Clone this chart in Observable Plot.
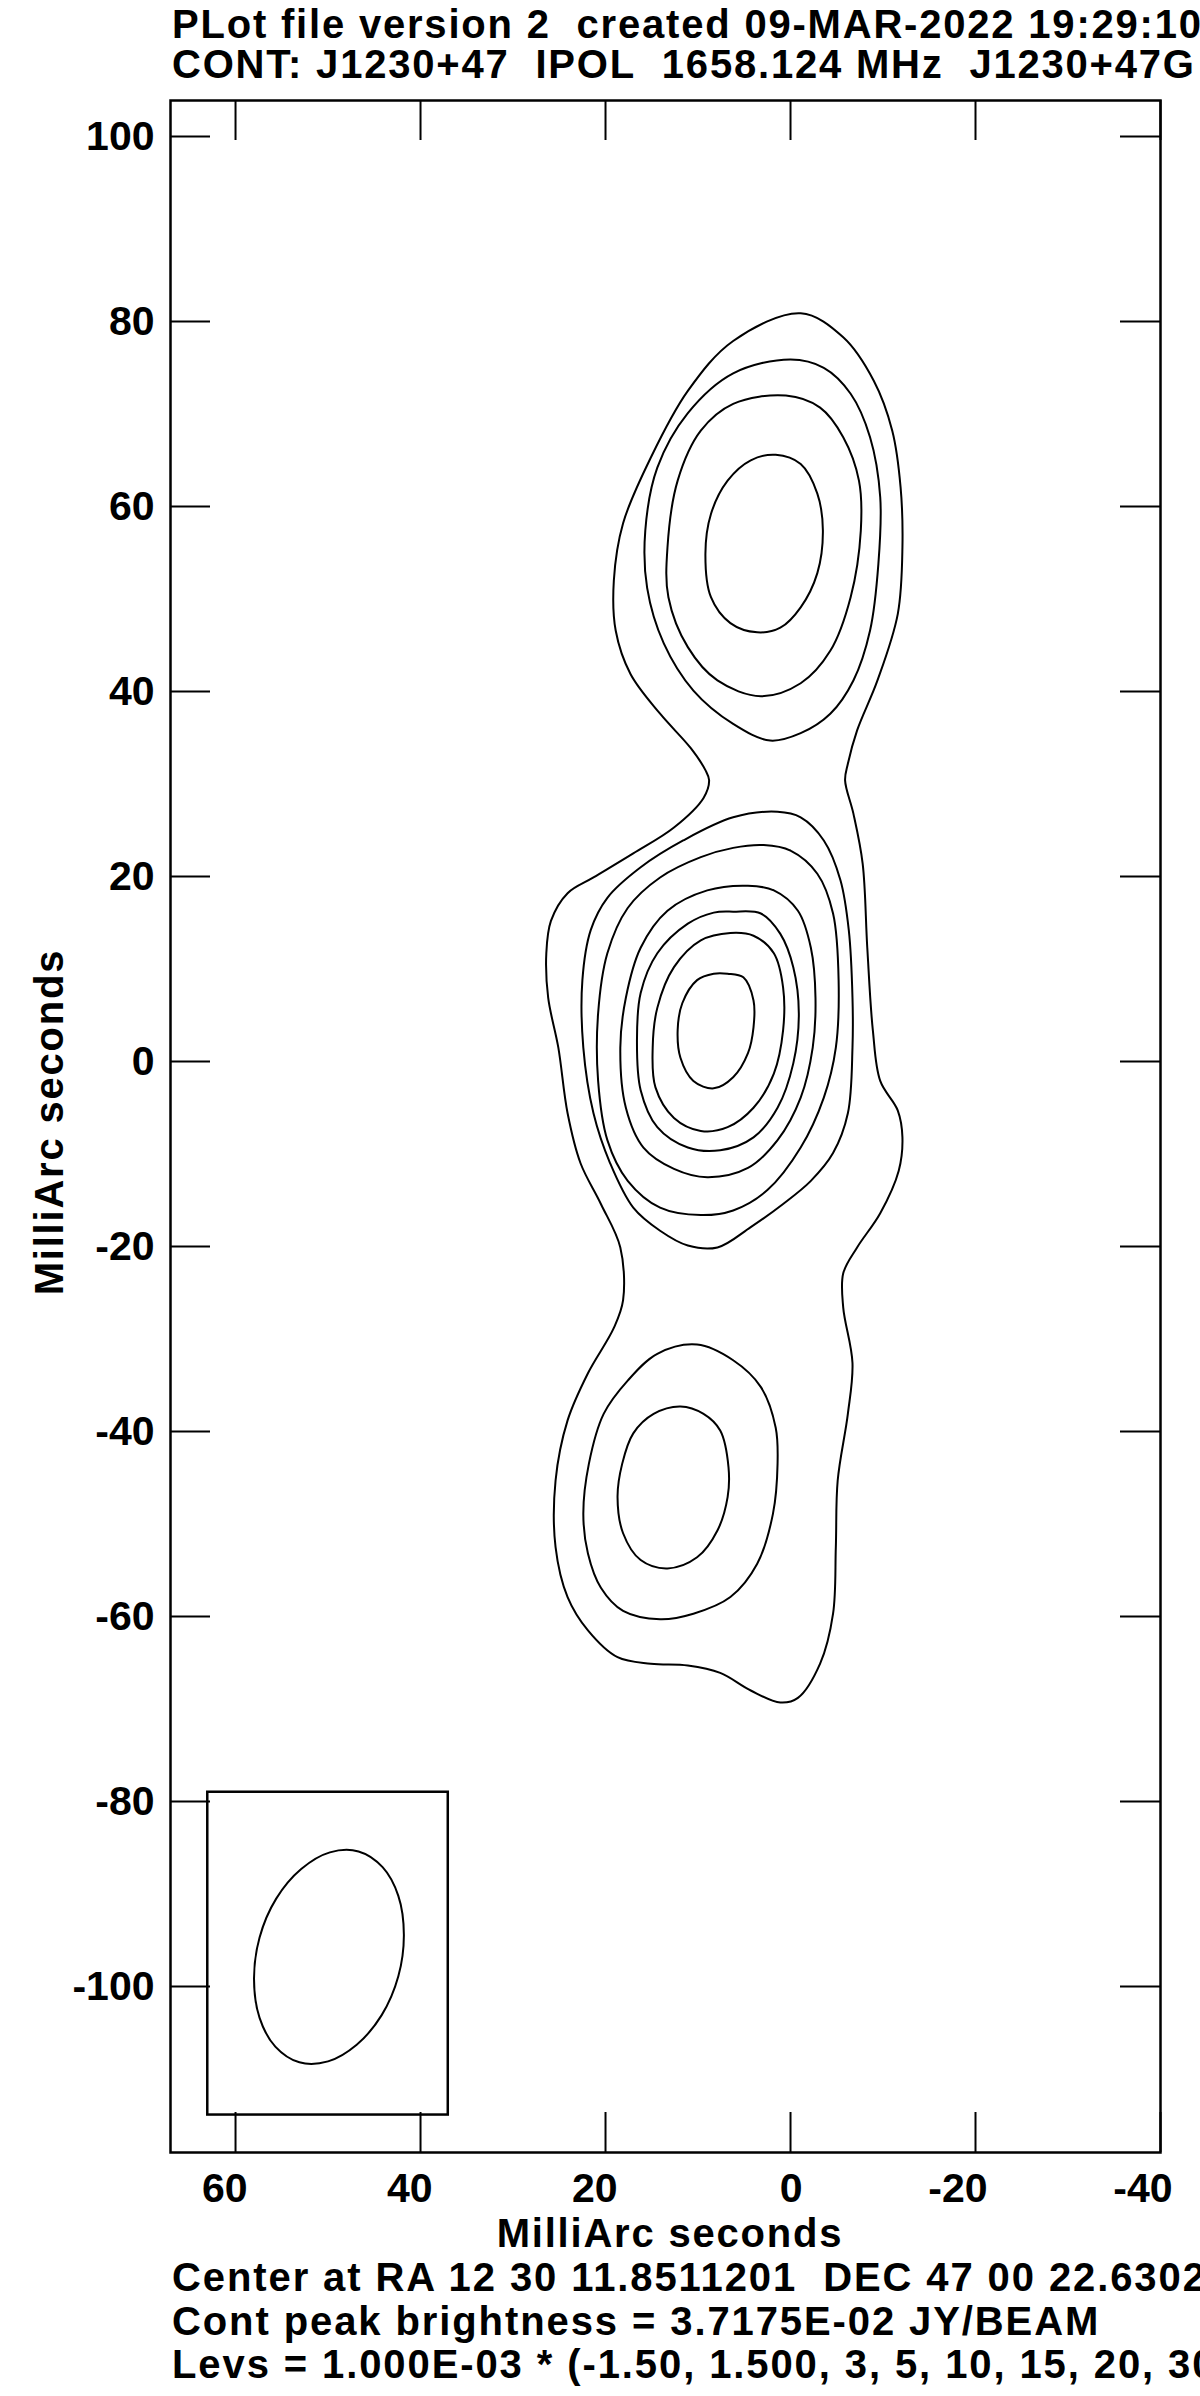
<!DOCTYPE html>
<html>
<head>
<meta charset="utf-8">
<script src="https://cdn.jsdelivr.net/npm/d3@7"></script>
<script src="https://cdn.jsdelivr.net/npm/@observablehq/plot@0.6"></script>
<style>
html, body { margin: 0; padding: 0; overflow: hidden; background: #fff; }
#page { position: relative; width: 1200px; height: 2396px; overflow: hidden;
  font-family: "Liberation Sans", Arial, Helvetica, sans-serif; font-weight: bold; color: #000; }
.t { position: absolute; white-space: nowrap; font-size: 40px; }
#chart { position: absolute; left: 0; top: 90px; }
</style>
</head>
<body>
<div id="page">
  <div class="t" id="title" style="left:172px; top:4.15px; line-height:40px; letter-spacing:1.8px;"></div>
  <div id="chart"></div>
  <div class="t" id="xlabel" style="left:670px; top:2213px; line-height:40px; letter-spacing:1.8px; transform:translateX(-50%);"></div>
  <div class="t" id="ylabel" style="left:49.2px; top:1122px; line-height:40px; letter-spacing:1.8px; transform:translate(-50%,-50%) rotate(-90deg);"></div>
  <div class="t" id="caption" style="left:172px; top:2256.4px; line-height:43.5px; letter-spacing:1.9px;"></div>
</div>
<script>
// ---- text ----
const titleLines = [
  "PLot file version 2\u00a0\u00a0created 09-MAR-2022 19:29:10",
  "CONT: J1230+47\u00a0\u00a0IPOL\u00a0\u00a01658.124 MHz\u00a0\u00a0J1230+47G"
];
const captionLines = [
  "Center at RA 12 30 11.8511201\u00a0\u00a0DEC 47 00 22.6302",
  "Cont peak brightness = 3.7175E-02 JY/BEAM",
  "Levs = 1.000E-03 * (-1.50, 1.500, 3, 5, 10, 15, 20, 30"
];
const xAxisLabel = "MilliArc seconds";
const yAxisLabel = "MilliArc seconds";

// ---- axes (milliarcseconds) ----
const xDomain = [67.03, -40];
const yDomain = [-117.95, 103.9];
const xTicks = [60, 40, 20, 0, -20, -40];
const yTicks = [100, 80, 60, 40, 20, 0, -20, -40, -60, -80, -100];

const contourOuter = [[-1.1,80.9],[-5.7,78.3],[-9.0,73.6],[-11.0,68.2],[-11.9,62.1],[-12.1,55.6],[-11.6,48.4],[-9.4,41.2],[-7.2,35.8],[-6.2,32.2],[-5.9,30.4],[-6.8,26.8],[-7.8,21.4],[-8.3,12.3],[-8.9,3.4],[-9.7,-2.1],[-11.6,-5.3],[-12.1,-8.2],[-11.7,-11.8],[-9.7,-16.4],[-7.2,-20.1],[-5.7,-22.9],[-5.7,-26.6],[-6.7,-32.6],[-6.2,-38.1],[-5.1,-45.3],[-4.9,-52.5],[-4.6,-59.7],[-3.2,-65.1],[-0.8,-68.8],[1.1,-69.3],[4.3,-68.0],[7.6,-66.1],[11.1,-65.3],[15.1,-65.1],[18.7,-64.4],[21.9,-61.5],[24.1,-57.9],[25.4,-52.5],[25.4,-45.3],[24.1,-38.8],[21.9,-33.7],[19.1,-28.8],[18.1,-25.8],[18.4,-20.1],[20.5,-15.4],[22.7,-11.0],[24.1,-5.6],[25.1,1.5],[26.2,6.9],[26.4,11.7],[25.9,15.2],[24.1,18.2],[21.3,19.9],[17.0,22.5],[12.6,25.3],[9.4,28.5],[8.8,30.4],[9.2,31.5],[10.8,33.9],[14.1,37.6],[17.3,41.9],[18.9,46.6],[19.1,52.0],[18.1,58.2],[15.1,65.3],[11.1,72.5],[6.2,77.9]];

const contourNorth2 = [[0,75.9],[-3.6,75.0],[-6.5,72.2],[-8.6,67.5],[-9.7,61.0],[-9.5,53.8],[-8.6,46.6],[-6.8,41.2],[-4.3,37.6],[-1.1,35.5],[2.2,34.7],[6.2,36.5],[10.5,40.1],[13.7,45.2],[15.5,51.2],[15.7,57.4],[14.4,64.2],[11.1,70.1],[6.2,74.4]];
const contourNorth3 = [[0.5,72.0],[-3.2,70.7],[-5.7,67.5],[-7.4,62.8],[-7.6,57.4],[-6.5,50.2],[-4.3,44.4],[-1.1,40.9],[3.2,39.5],[7.9,41.2],[11.1,44.8],[13.2,50.2],[13.3,55.6],[12.2,62.8],[9.7,68.2],[6.2,71.1]];
const contourNorth4 = [[1.6,65.6],[-1.1,64.6],[-2.9,61.4],[-3.5,57.4],[-2.9,52.8],[-1.1,49.1],[1.1,46.9],[3.6,46.4],[6.5,47.4],[8.6,50.2],[9.2,54.9],[8.6,59.2],[6.8,62.8],[4.3,65.0]];

const contourCore2 = [[1.4,27.0],[-1.1,26.4],[-3.6,23.9],[-5.4,19.6],[-6.3,14.2],[-6.7,6.9],[-6.7,1.5],[-6.2,-5.6],[-4.6,-9.9],[-2.2,-12.9],[0.8,-15.4],[4.3,-17.9],[7.9,-20.1],[11.1,-19.9],[14.1,-18.3],[17.0,-15.8],[19.5,-11.0],[21.3,-5.6],[22.4,1.5],[22.5,8.8],[21.6,14.2],[19.8,17.7],[16.2,21.0],[11.6,23.9],[6.2,26.4]];
const contourCore3 = [[2.9,23.4],[0,22.8],[-2.9,20.3],[-4.6,16.0],[-5.2,8.8],[-4.9,1.5],[-3.6,-3.9],[-1.1,-9.3],[2.5,-13.9],[6.2,-16.1],[9.7,-16.6],[14.1,-15.8],[17.6,-12.9],[19.8,-8.5],[20.8,-2.1],[20.8,5.2],[19.8,11.7],[17.6,16.6],[14.1,19.9],[9.7,22.1],[6.2,23.1]];
const contourCore4 = [[4.6,19.0],[1.8,18.5],[-0.8,16.3],[-2.2,12.3],[-2.7,6.9],[-2.4,1.5],[-1.1,-3.9],[1.4,-8.5],[4.6,-11.5],[9.0,-12.5],[12.6,-11.6],[15.9,-9.3],[17.8,-5.0],[18.4,1.5],[17.8,6.9],[16.2,12.3],[13.3,16.3],[9.0,18.5]];
const contourCore5 = [[6.2,16.2],[3.2,16.0],[1.1,13.8],[-0.3,10.2],[-0.9,5.2],[-0.3,-0.2],[1.4,-5.0],[4.0,-8.2],[7.6,-9.6],[11.1,-9.3],[14.4,-7.1],[16.2,-3.1],[16.6,2.3],[16.2,7.4],[14.4,11.7],[11.1,14.9],[8.3,16.1]];
const contourCore6 = [[6.5,13.9],[4.0,13.6],[1.8,11.7],[0.8,8.0],[0.8,3.4],[1.8,-1.3],[4.0,-5.0],[6.8,-7.1],[9.7,-7.5],[12.6,-6.1],[14.6,-2.8],[14.9,1.5],[14.4,5.8],[12.6,10.2],[9.7,13.1]];
const contourCore7 = [[6.8,9.5],[5.1,9.1],[4.0,6.6],[4.0,3.7],[4.6,0.9],[6.2,-1.7],[8.3,-2.9],[10.5,-2.1],[11.9,0.4],[12.2,3.4],[11.7,6.3],[10.1,8.8],[8.3,9.5]];

const contourSouth2 = [[10.1,-30.6],[6.2,-32.3],[3.2,-35.2],[1.6,-39.6],[1.4,-43.5],[1.9,-48.9],[3.6,-54.3],[6.5,-57.9],[10.5,-59.7],[14.1,-60.3],[18.1,-59.4],[20.5,-56.9],[21.9,-53.2],[22.4,-48.9],[21.8,-43.5],[20.2,-38.1],[17.6,-34.5],[14.4,-31.6]];
const contourSouth3 = [[11.9,-37.3],[9.4,-38.1],[7.6,-39.9],[6.7,-43.9],[6.8,-47.1],[7.9,-50.7],[10.1,-53.6],[13.3,-54.8],[16.2,-53.9],[18.1,-51.0],[18.7,-47.1],[18.2,-43.5],[17.0,-40.2],[14.8,-38.1]];

// ---- restoring beam (traced) and its box ----
const beamOutline = [[46.7,-85.4],[44.1,-87.1],[42.4,-90.2],[41.8,-94.4],[42.4,-98.9],[44.2,-103.1],[46.9,-106.3],[50.0,-108.1],[53.1,-108.2],[55.7,-106.5],[57.4,-103.4],[58.0,-99.2],[57.4,-94.7],[55.6,-90.5],[52.9,-87.3],[49.8,-85.5]];
const beamBoxX = [63.0, 37.0];
const beamBoxY = [-79.0, -113.9];

// ---- build tables ----
const contourSets = [contourOuter, contourNorth2, contourNorth3, contourNorth4,
  contourCore2, contourCore3, contourCore4, contourCore5, contourCore6, contourCore7,
  contourSouth2, contourSouth3];
const contourRows = contourSets.flatMap((pts, i) => pts.map(([x, y]) => ({id: i, x, y})));
const beamRows = beamOutline.map(([x, y]) => ({x, y}));
const boxRows = [{x1: beamBoxX[0], x2: beamBoxX[1], y1: beamBoxY[0], y2: beamBoxY[1]}];

document.getElementById("title").innerHTML = titleLines.join("<br>");
document.getElementById("caption").innerHTML = captionLines.join("<br>");
document.getElementById("xlabel").textContent = xAxisLabel;
document.getElementById("ylabel").textContent = yAxisLabel;

const frameH = 2052, frameW = 990, tickLen = 40;
const chart = Plot.plot({
  width: 1200,
  height: 10 + frameH + 60,
  marginTop: 10,
  marginLeft: 170,
  marginRight: 40,
  marginBottom: 60,
  x: {domain: xDomain, axis: null},
  y: {domain: yDomain, axis: null},
  style: {background: "transparent", overflow: "visible",
    fontFamily: "'Liberation Sans', Arial, Helvetica, sans-serif", fontWeight: "bold", fontSize: "41px"},
  marks: [
    Plot.line(contourRows, {x: "x", y: "y", z: "id", curve: "catmull-rom-closed", stroke: "black", strokeWidth: 2}),
    Plot.rect(boxRows, {x1: "x1", x2: "x2", y1: "y1", y2: "y2", fill: "none", stroke: "black", strokeWidth: 2.5}),
    Plot.line(beamRows, {x: "x", y: "y", curve: "catmull-rom-closed", stroke: "black", strokeWidth: 2}),
    Plot.tickX(xTicks, {x: d => d, insetBottom: frameH - tickLen, stroke: "black", strokeWidth: 2}),
    Plot.tickX(xTicks, {x: d => d, insetTop: frameH - tickLen, stroke: "black", strokeWidth: 2}),
    Plot.tickY(yTicks, {y: d => d, insetRight: frameW - tickLen, stroke: "black", strokeWidth: 2}),
    Plot.tickY(yTicks, {y: d => d, insetLeft: frameW - tickLen, stroke: "black", strokeWidth: 2}),
    Plot.text(xTicks, {x: d => d, text: d => String(d), frameAnchor: "bottom", lineAnchor: "bottom",
      textAnchor: "end", dx: 12, dy: 49, fontSize: 41, fontWeight: "bold", fill: "black"}),
    Plot.text(yTicks, {y: d => d, text: d => String(d), frameAnchor: "left",
      textAnchor: "end", dx: -16, fontSize: 41, fontWeight: "bold", fill: "black"}),
    Plot.frame({stroke: "black", strokeWidth: 2.5})
  ]
});
document.getElementById("chart").appendChild(chart);
</script>
</body>
</html>
